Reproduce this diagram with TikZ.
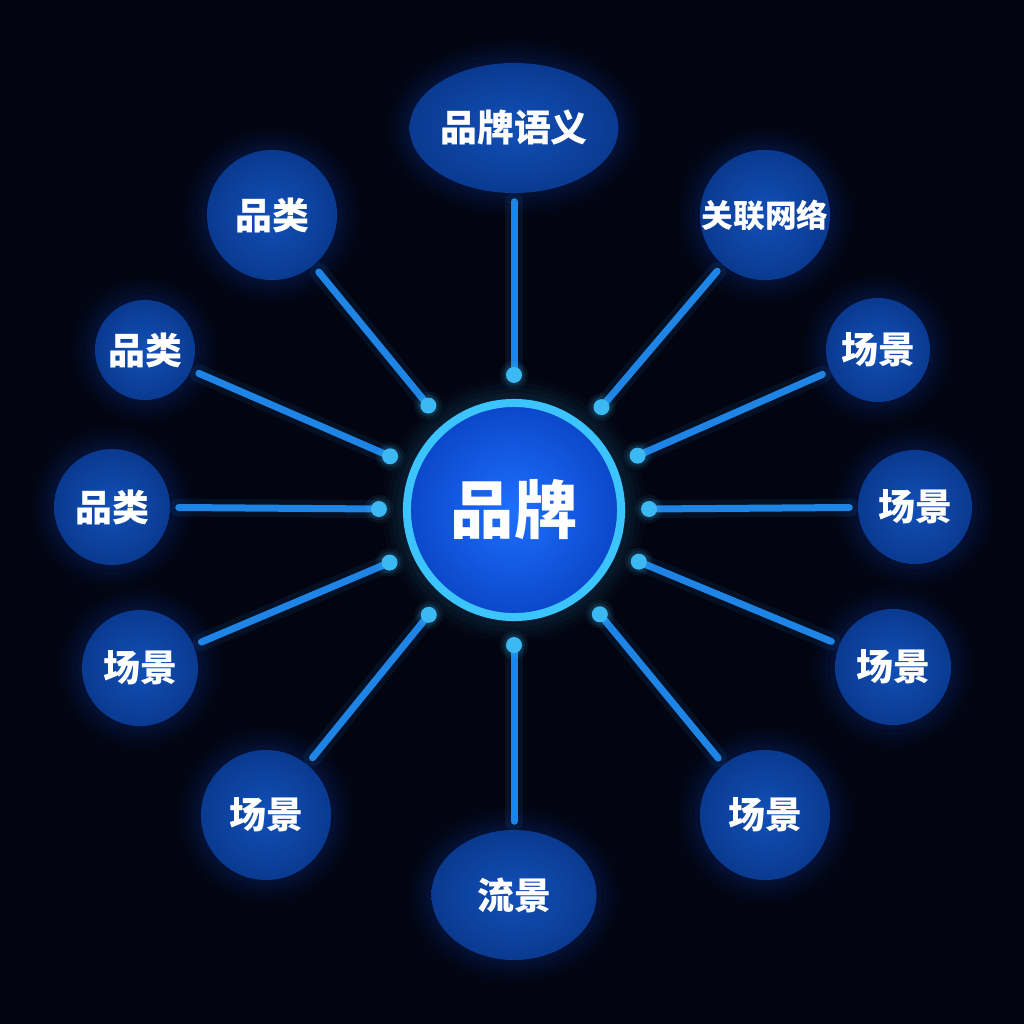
\documentclass[tikz,border=0pt]{standalone}
\usepackage{fontspec}
\newfontfamily\cjk{Noto Sans CJK SC}
\usetikzlibrary{calc,shapes.geometric}
\definecolor{bgnavy}{HTML}{02040F}
\definecolor{satblue}{HTML}{0A3A90}
\definecolor{satcore}{HTML}{1250B8}
\definecolor{hubcore}{HTML}{1E70FF}
\definecolor{hubedge}{HTML}{0B46C8}
\definecolor{ringcyan}{HTML}{3CC4FF}
\definecolor{spokeblue}{HTML}{1E84E6}
\definecolor{dotcyan}{HTML}{3CB8F2}
\definecolor{glowblue}{HTML}{1E5AE6}
\newcommand{\DotRad}{0.08cm}
\newcommand{\DotGap}{1.35cm}
\tikzset{
  glow/.style={preaction={draw=#1,line width=0.50cm,opacity=0.025},
               preaction={draw=#1,line width=0.40cm,opacity=0.03},
               preaction={draw=#1,line width=0.30cm,opacity=0.035},
               preaction={draw=#1,line width=0.20cm,opacity=0.04},
               preaction={draw=#1,line width=0.10cm,opacity=0.05}},
  smallglow/.style={preaction={draw=#1,line width=0.12cm,opacity=0.08},
                    preaction={draw=#1,line width=0.06cm,opacity=0.12}},
  sat/.style={circle,inner sep=0pt,minimum size=#1,
              inner color=satcore,outer color=satblue,glow=glowblue,
              text=white,font=\cjk\bfseries\fontsize{10.5}{12}\selectfont},
  satoval/.style 2 args={sat=#2,ellipse,minimum width=#1,minimum height=#2},
  hub/.style={circle,inner sep=0pt,minimum size=2.14cm,
              inner color=hubcore,outer color=hubedge,
              draw=ringcyan,line width=0.08cm,glow=ringcyan,
              text=white,font=\cjk\bfseries\fontsize{18}{20}\selectfont},
  spoke/.style={spokeblue,line width=0.07cm,line cap=round,shorten >=0.08cm,
                preaction={draw=spokeblue,line width=0.18cm,opacity=0.10,
                           line cap=round,shorten >=0.08cm}},
  dot/.style={fill=dotcyan,smallglow=dotcyan}
}
\begin{document}
\begin{tikzpicture}[x=0.01cm,y=-0.01cm]
  \fill[bgnavy] (0,0) rectangle (1024,1024);
  \useasboundingbox (0,0) rectangle (1024,1024);
  % centre
  \node[hub] (hub) at (514,510) {品牌};
  % satellites, clockwise from the top
  \node[satoval={2cm}{1.3cm}] (s1) at (514,128) {品牌语义};
  \node[sat=1.3cm,font=\cjk\bfseries\fontsize{9}{11}\selectfont] (s2) at (765,215) {关联网络};
  \node[sat=1.04cm] (s3) at (878,350) {场景};
  \node[sat=1.14cm] (s4) at (915,507) {场景};
  \node[sat=1.16cm] (s5) at (893,667) {场景};
  \node[sat=1.3cm] (s6) at (765,815) {场景};
  \node[satoval={1.65cm}{1.3cm}] (s7) at (514,895) {流景};
  \node[sat=1.3cm] (s8) at (266,815) {场景};
  \node[sat=1.16cm] (s9) at (140,668) {场景};
  \node[sat=1.16cm] (s10) at (112,507) {品类};
  \node[sat=1.0cm] (s11) at (145,350) {品类};
  \node[sat=1.3cm] (s12) at (272,215) {品类};
  % spokes with their dots
  \coordinate (d1) at ($(hub.center)!\DotGap!(s1.center)$);
  \coordinate (d2) at ($(hub.center)!\DotGap!(s2.center)$);
  \coordinate (d3) at ($(hub.center)!\DotGap!(s3.center)$);
  \coordinate (d4) at ($(hub.center)!\DotGap!(s4.center)$);
  \coordinate (d5) at ($(hub.center)!\DotGap!(s5.center)$);
  \coordinate (d6) at ($(hub.center)!\DotGap!(s6.center)$);
  \coordinate (d7) at ($(hub.center)!\DotGap!(s7.center)$);
  \coordinate (d8) at ($(hub.center)!\DotGap!(s8.center)$);
  \coordinate (d9) at ($(hub.center)!\DotGap!(s9.center)$);
  \coordinate (d10) at ($(hub.center)!\DotGap!(s10.center)$);
  \coordinate (d11) at ($(hub.center)!\DotGap!(s11.center)$);
  \coordinate (d12) at ($(hub.center)!\DotGap!(s12.center)$);
  \draw[spoke] (d1) -- (s1);
  \draw[spoke] (d2) -- (s2);
  \draw[spoke] (d3) -- (s3);
  \draw[spoke] (d4) -- (s4);
  \draw[spoke] (d5) -- (s5);
  \draw[spoke] (d6) -- (s6);
  \draw[spoke] (d7) -- (s7);
  \draw[spoke] (d8) -- (s8);
  \draw[spoke] (d9) -- (s9);
  \draw[spoke] (d10) -- (s10);
  \draw[spoke] (d11) -- (s11);
  \draw[spoke] (d12) -- (s12);
  \fill[dot] (d1) circle (\DotRad);
  \fill[dot] (d2) circle (\DotRad);
  \fill[dot] (d3) circle (\DotRad);
  \fill[dot] (d4) circle (\DotRad);
  \fill[dot] (d5) circle (\DotRad);
  \fill[dot] (d6) circle (\DotRad);
  \fill[dot] (d7) circle (\DotRad);
  \fill[dot] (d8) circle (\DotRad);
  \fill[dot] (d9) circle (\DotRad);
  \fill[dot] (d10) circle (\DotRad);
  \fill[dot] (d11) circle (\DotRad);
  \fill[dot] (d12) circle (\DotRad);
\end{tikzpicture}
\end{document}
